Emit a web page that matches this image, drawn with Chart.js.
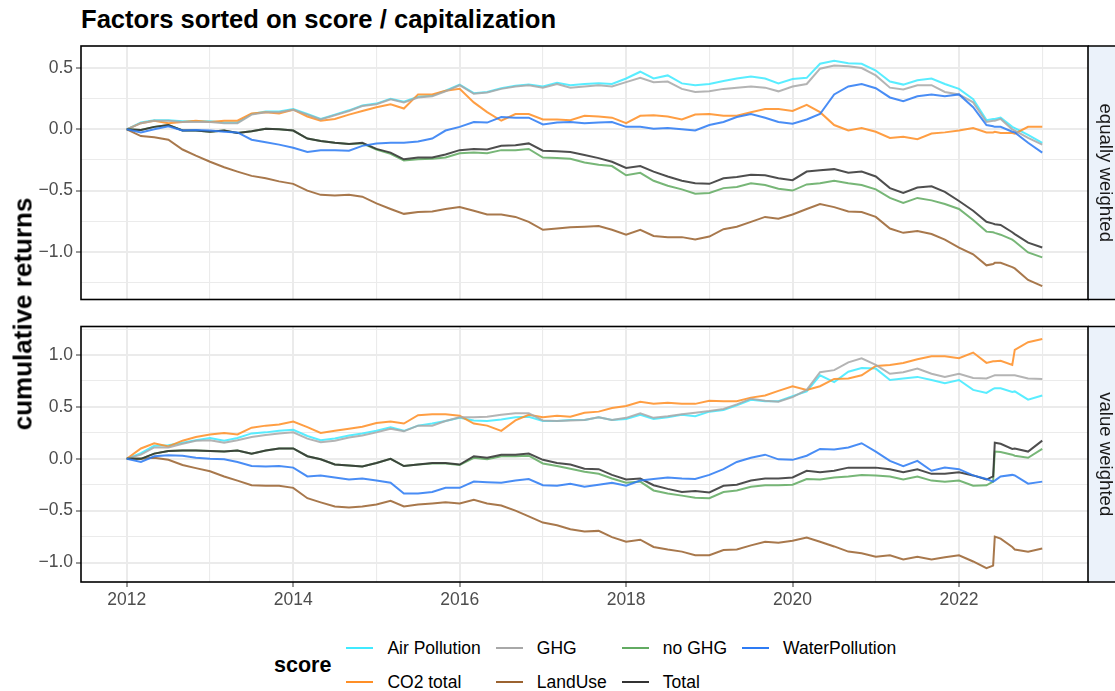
<!DOCTYPE html>
<html>
<head>
<meta charset="utf-8">
<script src="https://cdn.jsdelivr.net/npm/chart.js@4.4.1/dist/chart.umd.min.js"></script>
<style>
  body { margin: 0; background: #fff; font-family: "Liberation Sans", Arial, sans-serif; }
  #wrap { position: relative; width: 1115px; height: 691px; overflow: hidden; }
  canvas { position: absolute; left: 0; }
  #title { position: absolute; left: 81px; top: 7px; font-size: 25.6px; line-height: 25px; font-weight: bold; color: #000; white-space: nowrap; }
  #ytitle { position: absolute; left: 23px; top: 314px; transform: translate(-50%, -50%) rotate(-90deg); font-size: 26px; font-weight: bold; white-space: nowrap; }
  #legend { position: absolute; left: 274px; top: 631px; display: flex; align-items: center; }
  #legend .ltitle { font-size: 21.5px; font-weight: bold; margin-right: 15px; }
  #litems { display: grid; grid-template-rows: 34px 34px; grid-auto-flow: column; column-gap: 15px; }
  #litems .item { display: flex; align-items: center; font-size: 17.5px; color: #000; }
  #litems .key { width: 27px; height: 2.5px; margin-right: 14px; }
</style>
</head>
<body>
<div id="wrap">
  <div id="title">Factors sorted on score / capitalization</div>
  <canvas id="top" width="1115" height="313" style="top:0px"></canvas>
  <canvas id="bottom" width="1115" height="307" style="top:313px"></canvas>
  <div id="ytitle">cumulative returns</div>
  <div id="legend"><div class="ltitle">score</div><div id="litems"></div></div>
</div>
<script>
// dates as decimal years (roughly every two months, with extra points around jumps)
const dates = [
  2012.00, 2012.17, 2012.33, 2012.50, 2012.67, 2012.83,
  2013.00, 2013.17, 2013.33, 2013.50, 2013.67, 2013.83,
  2014.00, 2014.17, 2014.33, 2014.50, 2014.67, 2014.83,
  2015.00, 2015.17, 2015.33, 2015.50, 2015.67, 2015.83,
  2016.00, 2016.17, 2016.33, 2016.50, 2016.67, 2016.83,
  2017.00, 2017.17, 2017.33, 2017.50, 2017.67, 2017.83,
  2018.00, 2018.17, 2018.33, 2018.50, 2018.67, 2018.83,
  2019.00, 2019.17, 2019.33, 2019.50, 2019.67, 2019.83,
  2020.00, 2020.17, 2020.33, 2020.50, 2020.67, 2020.83,
  2021.00, 2021.17, 2021.33, 2021.50, 2021.67, 2021.83,
  2022.00, 2022.17, 2022.33, 2022.41, 2022.43, 2022.50, 2022.64, 2022.67, 2022.83, 2023.00
];

const seriesNames = ["Air Pollution", "CO2 total", "GHG", "LandUse", "no GHG", "Total", "WaterPollution"];
const seriesColors = ["#40EAFF", "#FF8F26", "#A8A8A8", "#9B6330", "#62AB62", "#333333", "#2D7BF4"];

// equally weighted
const ewAirPollution = [
  0, 0.055, 0.075, 0.075, 0.065, 0.065,
  0.065, 0.055, 0.055, 0.125, 0.145, 0.145,
  0.165, 0.125, 0.085, 0.12, 0.155, 0.195,
  0.21, 0.25, 0.225, 0.265, 0.275, 0.315,
  0.365, 0.295, 0.305, 0.335, 0.355, 0.365,
  0.35, 0.38, 0.36, 0.37, 0.375, 0.37,
  0.415, 0.47, 0.415, 0.44, 0.375, 0.36,
  0.37, 0.395, 0.415, 0.43, 0.415, 0.375,
  0.41, 0.42, 0.535, 0.56, 0.54, 0.535,
  0.48, 0.39, 0.365, 0.40, 0.415, 0.37,
  0.33, 0.245, 0.075, 0.085, 0.085, 0.095, 0.02, 0.01, -0.045, -0.11
];
const ewCO2total = [
  0, 0.05, 0.07, 0.05, 0.06, 0.07,
  0.06, 0.07, 0.07, 0.13, 0.14, 0.13,
  0.16, 0.105, 0.07, 0.085, 0.12, 0.15,
  0.18, 0.205, 0.17, 0.285, 0.285, 0.315,
  0.33, 0.22, 0.14, 0.07, 0.125, 0.125,
  0.08, 0.08, 0.075, 0.11, 0.105, 0.095,
  0.05, 0.11, 0.115, 0.105, 0.08, 0.12,
  0.125, 0.11, 0.11, 0.14, 0.165, 0.165,
  0.15, 0.20, 0.14, 0.035, -0.01, 0.01,
  -0.02, -0.07, -0.06, -0.08, -0.035, -0.025,
  -0.01, 0.01, -0.025, -0.025, -0.02, -0.03, -0.03, -0.035, 0.02, 0.02
];
const ewGHG = [
  0, 0.05, 0.07, 0.07, 0.06, 0.06,
  0.06, 0.05, 0.05, 0.12, 0.14, 0.14,
  0.16, 0.12, 0.08, 0.115, 0.15, 0.19,
  0.205, 0.245, 0.22, 0.26, 0.27, 0.31,
  0.36, 0.29, 0.30, 0.33, 0.35, 0.36,
  0.34, 0.37, 0.34, 0.35, 0.36, 0.35,
  0.385, 0.42, 0.385, 0.39, 0.33, 0.305,
  0.31, 0.33, 0.34, 0.35, 0.34, 0.31,
  0.35, 0.37, 0.495, 0.52, 0.515, 0.50,
  0.44, 0.34, 0.325, 0.36, 0.36, 0.305,
  0.285, 0.22, 0.06, 0.07, 0.07, 0.085, 0.0, -0.01, -0.07, -0.125
];
const ewLandUse = [
  0, -0.055, -0.065, -0.085, -0.165, -0.215,
  -0.265, -0.31, -0.345, -0.38, -0.40, -0.425,
  -0.445, -0.50, -0.535, -0.54, -0.535, -0.55,
  -0.605, -0.65, -0.69, -0.675, -0.67, -0.65,
  -0.635, -0.665, -0.695, -0.695, -0.715, -0.755,
  -0.82, -0.81, -0.80, -0.795, -0.79, -0.82,
  -0.86, -0.82, -0.87, -0.88, -0.88, -0.90,
  -0.875, -0.815, -0.795, -0.755, -0.715, -0.73,
  -0.695, -0.65, -0.61, -0.635, -0.67, -0.675,
  -0.715, -0.81, -0.845, -0.83, -0.855, -0.90,
  -0.965, -1.02, -1.11, -1.10, -1.09, -1.09, -1.125, -1.135, -1.23, -1.28
];
const ewNoGHG = [
  0, -0.005, 0.02, 0.035, -0.01, -0.01,
  -0.02, -0.01, -0.03, -0.015, 0.005, 0.0,
  -0.01, -0.075, -0.095, -0.11, -0.12, -0.115,
  -0.165, -0.20, -0.255, -0.245, -0.24, -0.23,
  -0.195, -0.19, -0.195, -0.17, -0.17, -0.16,
  -0.23, -0.235, -0.24, -0.27, -0.29, -0.30,
  -0.375, -0.355, -0.42, -0.46, -0.49, -0.525,
  -0.52, -0.48, -0.47, -0.44, -0.455, -0.485,
  -0.50, -0.45, -0.44, -0.42, -0.44, -0.455,
  -0.49, -0.56, -0.60, -0.56, -0.58, -0.61,
  -0.65, -0.74, -0.835, -0.84, -0.845, -0.86, -0.90, -0.915, -1.005, -1.045
];
const ewTotal = [
  0, -0.005, 0.02, 0.035, -0.01, -0.01,
  -0.02, -0.01, -0.03, -0.015, 0.005, 0.0,
  -0.01, -0.075, -0.095, -0.11, -0.12, -0.11,
  -0.16, -0.19, -0.245, -0.23, -0.23, -0.205,
  -0.17, -0.16, -0.165, -0.135, -0.13, -0.115,
  -0.175, -0.18, -0.185, -0.21, -0.235, -0.265,
  -0.315, -0.30, -0.345, -0.385, -0.42, -0.44,
  -0.445, -0.40, -0.39, -0.37, -0.375, -0.40,
  -0.415, -0.345, -0.335, -0.325, -0.355, -0.345,
  -0.385, -0.48, -0.52, -0.475, -0.465, -0.51,
  -0.585, -0.665, -0.755, -0.77, -0.775, -0.78, -0.84, -0.855, -0.925, -0.965
];
const ewWaterPollution = [
  0, -0.025, 0, 0.025, -0.01, -0.005,
  -0.01, -0.02, -0.025, -0.085, -0.105, -0.125,
  -0.15, -0.185, -0.17, -0.17, -0.175, -0.135,
  -0.115, -0.11, -0.11, -0.10, -0.075, -0.01,
  0.02, 0.06, 0.055, 0.10, 0.095, 0.095,
  0.04, 0.055, 0.06, 0.05, 0.055, 0.06,
  0.02, 0.02, 0.005, 0.01, 0.0, -0.01,
  0.035, 0.06, 0.10, 0.125, 0.095, 0.06,
  0.045, 0.08, 0.125, 0.285, 0.35, 0.37,
  0.335, 0.26, 0.23, 0.27, 0.285, 0.27,
  0.285, 0.18, 0.035, 0.025, 0.02, 0.02, -0.02, -0.025, -0.11, -0.19
];

// value weighted
const vwAirPollution = [
  0, 0.055, 0.125, 0.13, 0.155, 0.18,
  0.20, 0.175, 0.20, 0.245, 0.255, 0.27,
  0.28, 0.22, 0.18, 0.195, 0.225, 0.245,
  0.27, 0.305, 0.27, 0.32, 0.34, 0.365,
  0.395, 0.37, 0.365, 0.38, 0.40, 0.405,
  0.365, 0.365, 0.375, 0.375, 0.40, 0.375,
  0.385, 0.425, 0.385, 0.40, 0.425, 0.41,
  0.455, 0.47, 0.515, 0.57, 0.555, 0.555,
  0.605, 0.65, 0.805, 0.74, 0.84, 0.875,
  0.87, 0.76, 0.775, 0.79, 0.76, 0.73,
  0.76, 0.665, 0.635, 0.675, 0.68, 0.68, 0.645, 0.65, 0.57, 0.61
];
const vwCO2total = [
  0, 0.10, 0.15, 0.12, 0.175, 0.21,
  0.235, 0.25, 0.235, 0.30, 0.32, 0.33,
  0.36, 0.305, 0.25, 0.27, 0.29, 0.31,
  0.345, 0.36, 0.34, 0.42, 0.43, 0.43,
  0.415, 0.34, 0.32, 0.27, 0.37, 0.425,
  0.40, 0.415, 0.405, 0.445, 0.455, 0.49,
  0.51, 0.55, 0.53, 0.54, 0.53, 0.53,
  0.56, 0.555, 0.555, 0.59, 0.61, 0.655,
  0.70, 0.665, 0.70, 0.77, 0.775, 0.805,
  0.895, 0.905, 0.925, 0.96, 0.99, 0.99,
  0.97, 1.025, 0.925, 0.94, 0.94, 0.945, 0.905, 1.05, 1.125, 1.155
];
const vwGHG = [
  0, 0.04, 0.11, 0.11, 0.145, 0.175,
  0.18, 0.155, 0.18, 0.21, 0.23, 0.245,
  0.255, 0.195, 0.16, 0.175, 0.205, 0.225,
  0.255, 0.29, 0.265, 0.32, 0.32, 0.365,
  0.40, 0.40, 0.405, 0.425, 0.44, 0.44,
  0.37, 0.365, 0.37, 0.375, 0.40, 0.375,
  0.395, 0.44, 0.395, 0.41, 0.43, 0.445,
  0.46, 0.48, 0.525, 0.58, 0.56, 0.55,
  0.595, 0.665, 0.835, 0.855, 0.93, 0.97,
  0.905, 0.82, 0.835, 0.87, 0.82, 0.79,
  0.82, 0.78, 0.775, 0.80, 0.805, 0.805, 0.805, 0.805, 0.775, 0.77
];
const vwLandUse = [
  0, 0, 0.01, -0.01, -0.06, -0.09,
  -0.12, -0.17, -0.21, -0.255, -0.26, -0.26,
  -0.28, -0.38, -0.42, -0.46, -0.47, -0.46,
  -0.44, -0.405, -0.46, -0.44, -0.43, -0.42,
  -0.43, -0.395, -0.43, -0.45, -0.50, -0.555,
  -0.615, -0.64, -0.68, -0.70, -0.695, -0.755,
  -0.80, -0.78, -0.85, -0.875, -0.895, -0.93,
  -0.93, -0.88, -0.875, -0.835, -0.80, -0.81,
  -0.79, -0.76, -0.80, -0.845, -0.895, -0.91,
  -0.945, -0.93, -0.97, -0.945, -0.97, -0.95,
  -0.93, -0.99, -1.055, -1.03, -0.75, -0.77, -0.85, -0.875, -0.895, -0.865
];
const vwNoGHG = [
  0, 0, 0.05, 0.075, 0.08, 0.08,
  0.075, 0.07, 0.08, 0.05, 0.08, 0.10,
  0.10, 0.025, -0.005, -0.055, -0.065, -0.075,
  -0.04, 0.0, -0.07, -0.055, -0.045, -0.045,
  -0.06, 0.01, -0.005, 0.025, 0.025, 0.03,
  -0.045, -0.07, -0.095, -0.125, -0.145, -0.19,
  -0.23, -0.22, -0.305, -0.335, -0.355, -0.375,
  -0.38, -0.32, -0.305, -0.27, -0.255, -0.255,
  -0.25, -0.195, -0.20, -0.18, -0.17, -0.155,
  -0.16, -0.17, -0.20, -0.17, -0.21, -0.22,
  -0.21, -0.26, -0.255, -0.22, 0.07, 0.065, 0.04, 0.03, 0.01, 0.095
];
const vwTotal = [
  0, 0, 0.05, 0.075, 0.08, 0.08,
  0.075, 0.07, 0.08, 0.05, 0.08, 0.10,
  0.10, 0.025, -0.005, -0.055, -0.065, -0.075,
  -0.04, 0.0, -0.07, -0.055, -0.04, -0.04,
  -0.055, 0.025, 0.01, 0.04, 0.04, 0.05,
  -0.01, -0.04, -0.055, -0.095, -0.10, -0.155,
  -0.20, -0.19, -0.255, -0.29, -0.32, -0.31,
  -0.325, -0.26, -0.25, -0.21, -0.19, -0.19,
  -0.18, -0.115, -0.13, -0.115, -0.085, -0.085,
  -0.085, -0.10, -0.13, -0.10, -0.145, -0.145,
  -0.13, -0.16, -0.20, -0.17, 0.155, 0.145, 0.095, 0.10, 0.07, 0.175
];
const vwWaterPollution = [
  0, -0.03, 0.025, 0.035, 0.03, 0.01,
  0, -0.005, -0.03, -0.07, -0.075, -0.07,
  -0.085, -0.17, -0.16, -0.18, -0.20, -0.19,
  -0.21, -0.23, -0.335, -0.335, -0.32, -0.28,
  -0.28, -0.22, -0.225, -0.23, -0.21, -0.195,
  -0.255, -0.26, -0.24, -0.27, -0.25, -0.23,
  -0.26, -0.21, -0.195, -0.18, -0.19, -0.195,
  -0.155, -0.10, -0.03, 0.01, 0.04, -0.005,
  -0.01, 0.03, 0.095, 0.09, 0.11, 0.15,
  0.07, -0.02, -0.07, -0.02, -0.115, -0.085,
  -0.10, -0.16, -0.195, -0.22, -0.21, -0.17, -0.155, -0.16, -0.24, -0.22
];

const xTicks = { min: 2011.45, max: 2023.55, step: 1 };

const FONT = '"Liberation Sans", Arial, sans-serif';
const MINUS = "\u2212";

function isMajor(v, half) {
  return Math.abs(v / half - Math.round(v / half)) < 1e-6;
}

// draws the black panel frame and the facet strip on the right
const panelFrame = {
  id: "panelFrame",
  afterDraw(chart, args, opts) {
    const { ctx, chartArea: a } = chart;
    ctx.save();
    ctx.fillStyle = "#EBF2FA";
    ctx.fillRect(a.right, a.top, chart.width - a.right, a.bottom - a.top);
    ctx.strokeStyle = "#000";
    ctx.lineWidth = 1.6;
    ctx.strokeRect(a.left, a.top, a.right - a.left, a.bottom - a.top);
    ctx.beginPath();
    ctx.moveTo(a.right, a.top);
    ctx.lineTo(chart.width + 2, a.top);
    ctx.moveTo(a.right, a.bottom);
    ctx.lineTo(chart.width + 2, a.bottom);
    ctx.stroke();
    ctx.translate(1105, (a.top + a.bottom) / 2);
    ctx.rotate(Math.PI / 2);
    ctx.fillStyle = "#1A1A1A";
    ctx.font = "18.6px " + FONT;
    ctx.textAlign = "center";
    ctx.textBaseline = "middle";
    ctx.fillText(opts.label, 0, 0);
    ctx.restore();
  },
};

function makePanel(canvasId, values, yMin, yMax, label, showX, padding, xHeight) {
  const datasets = seriesNames.map((name, i) => ({
    label: name,
    data: dates.map((d, j) => ({ x: d, y: values[i][j] })),
    borderColor: seriesColors[i] + "DD",
    borderWidth: 2,
    pointRadius: 0,
    tension: 0,
    fill: false,
    order: seriesNames.length - i,
  }));

  return new Chart(document.getElementById(canvasId), {
    type: "line",
    data: { datasets },
    plugins: [panelFrame],
    options: {
      responsive: false,
      animation: false,
      layout: { padding },
      plugins: {
        legend: { display: false },
        tooltip: { enabled: false },
        panelFrame: { label },
      },
      scales: {
        x: {
          type: "linear",
          min: xTicks.min,
          max: xTicks.max,
          border: { display: false },
          grid: {
            color: "#EBEBEB",
            lineWidth: (c) => (c.tick && c.tick.value % 2 === 0 ? 2 : 1.1),
            drawTicks: showX,
            tickLength: 5,
            tickWidth: 1,
            tickColor: (c) => (c.tick && c.tick.value % 2 === 0 ? "#333333" : "rgba(0,0,0,0)"),
          },
          ticks: {
            display: showX,
            stepSize: xTicks.step,
            includeBounds: false,
            autoSkip: false,
            maxRotation: 0,
            padding: 3,
            color: "#4D4D4D",
            font: { family: FONT, size: 17.5 },
            callback: (v) => (v % 2 === 0 ? String(v) : ""),
          },
          afterFit: (s) => { s.height = xHeight; },
        },
        y: {
          min: yMin,
          max: yMax,
          border: { display: false },
          grid: {
            color: "#EBEBEB",
            lineWidth: (c) => (c.tick && isMajor(c.tick.value, 0.5) ? 2 : 1.1),
            tickLength: 5,
            tickWidth: 1,
            tickColor: (c) => (c.tick && isMajor(c.tick.value, 0.5) ? "#333333" : "rgba(0,0,0,0)"),
          },
          ticks: {
            stepSize: 0.25,
            includeBounds: false,
            padding: 3,
            color: "#4D4D4D",
            font: { family: FONT, size: 17.5 },
            callback: (v) => (isMajor(v, 0.5) ? v.toFixed(1).replace("-", MINUS) : ""),
          },
          afterFit: (s) => { s.width = 81; },
        },
      },
    },
  });
}

const topChart = makePanel(
  "top",
  [ewAirPollution, ewCO2total, ewGHG, ewLandUse, ewNoGHG, ewTotal, ewWaterPollution],
  -1.389, 0.68, "equally weighted", false,
  { left: 0, right: 27, top: 46, bottom: 5 }, 0
);
makePanel(
  "bottom",
  [vwAirPollution, vwCO2total, vwGHG, vwLandUse, vwNoGHG, vwTotal, vwWaterPollution],
  -1.188, 1.276, "value weighted", true,
  { left: 0, right: 27, top: 6, bottom: 0 }, 38
);

// ggplot style legend: filled column by column, two rows
const items = document.getElementById("litems");
topChart.data.datasets.forEach((ds, i) => {
  const el = document.createElement("div");
  el.className = "item";
  el.innerHTML = '<span class="key" style="background:' + seriesColors[i] + '"></span>' + ds.label;
  items.appendChild(el);
});
</script>
</body>
</html>
